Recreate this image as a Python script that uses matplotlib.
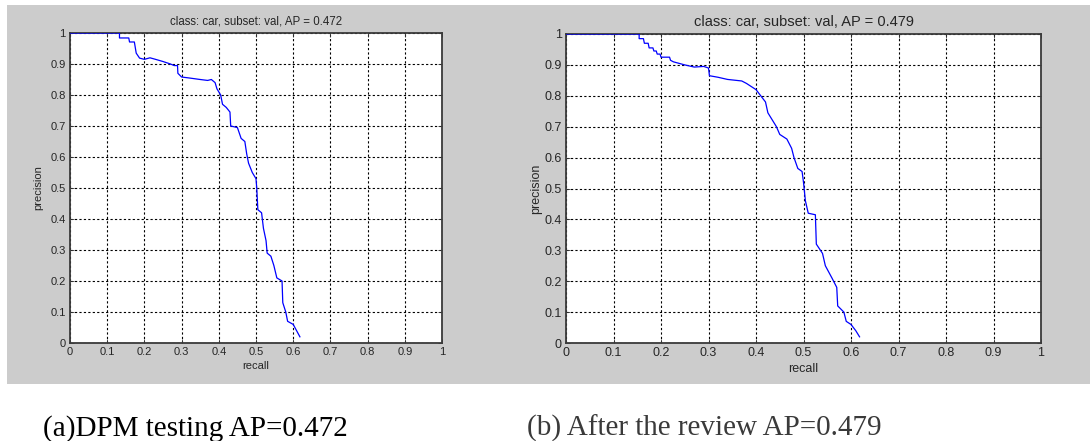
import matplotlib
matplotlib.use("Agg")
import matplotlib.pyplot as plt
from matplotlib.patches import Rectangle

# PR curve (a) DPM testing
rec_a = [0, 0.133, 0.133, 0.158, 0.16, 0.173, 0.178, 0.187, 0.2, 0.215, 0.23, 0.25,
         0.27, 0.28, 0.289, 0.29, 0.30, 0.32, 0.35, 0.37, 0.38, 0.39, 0.395, 0.405,
         0.41, 0.42, 0.43, 0.432, 0.45, 0.46, 0.47, 0.475, 0.48, 0.49, 0.50, 0.502,
         0.505, 0.515, 0.52, 0.527, 0.53, 0.54, 0.548, 0.556, 0.57, 0.572, 0.58,
         0.585, 0.6, 0.618]
prec_a = [1, 1, 0.984, 0.984, 0.971, 0.971, 0.935, 0.919, 0.915, 0.92, 0.915, 0.908,
          0.9, 0.895, 0.895, 0.87, 0.858, 0.855, 0.85, 0.847, 0.85, 0.84, 0.82, 0.80,
          0.77, 0.76, 0.745, 0.70, 0.695, 0.66, 0.65, 0.61, 0.58, 0.55, 0.53, 0.5,
          0.43, 0.42, 0.37, 0.33, 0.29, 0.28, 0.25, 0.21, 0.2, 0.13, 0.1,
          0.07, 0.06, 0.02]

# PR curve (b) after the review
rec_b = [0, 0.154, 0.154, 0.163, 0.165, 0.173, 0.175, 0.183, 0.185, 0.19, 0.192, 0.198,
         0.2, 0.218, 0.22, 0.226, 0.25, 0.27, 0.29, 0.3, 0.302, 0.32, 0.34, 0.37, 0.38,
         0.39, 0.4, 0.41, 0.42, 0.425, 0.435, 0.443, 0.45, 0.465, 0.475, 0.48, 0.488,
         0.497, 0.5, 0.504, 0.51, 0.525, 0.527, 0.54, 0.546, 0.56, 0.57, 0.572, 0.585,
         0.59, 0.6, 0.61, 0.618]
prec_b = [1, 1, 0.985, 0.985, 0.97, 0.97, 0.955, 0.955, 0.945, 0.945, 0.935, 0.935,
          0.925, 0.925, 0.915, 0.91, 0.9, 0.893, 0.895, 0.89, 0.865, 0.86, 0.853, 0.848, 0.84,
          0.83, 0.82, 0.8, 0.78, 0.745, 0.72, 0.7, 0.675, 0.66, 0.63, 0.60, 0.565,
          0.555, 0.52, 0.46, 0.42, 0.415, 0.32, 0.29, 0.25, 0.21, 0.18, 0.12, 0.1,
          0.07, 0.06, 0.04, 0.02]

titles = ["class: car, subset: val, AP = 0.472", "class: car, subset: val, AP = 0.479"]
captions = ["(a)DPM testing AP=0.472", "(b) After the review AP=0.479"]
ticks = [0, 0.1, 0.2, 0.3, 0.4, 0.5, 0.6, 0.7, 0.8, 0.9, 1]
tick_labels = ["0", "0.1", "0.2", "0.3", "0.4", "0.5", "0.6", "0.7", "0.8", "0.9", "1"]

W, H = 1090, 441
fig = plt.figure(figsize=(W / 100, H / 100), dpi=100)
fig.patch.set_facecolor("white")

# grey matlab figure background
fig.add_artist(Rectangle((7 / W, (H - 384) / H), 1083 / W, 379 / H,
                         transform=fig.transFigure, facecolor="#cccccc",
                         edgecolor="none", zorder=0))

txt = "#262626"
fam = ["Liberation Sans", "DejaVu Sans"]
# left screenshot is squeezed horizontally, so its text is a bit smaller
panels = [
    dict(rect=[70 / W, 98 / H, 372 / W, 310 / H], rec=rec_a, prec=prec_a,
         fs=8, tfs=8.3, ylpad=5),
    dict(rect=[566 / W, 98 / H, 475 / W, 309 / H], rec=rec_b, prec=prec_b,
         fs=9, tfs=10.5, ylpad=2),
]

for i, p in enumerate(panels):
    ax = fig.add_axes(p["rect"])
    ax.set_facecolor("white")
    ax.plot(p["rec"], p["prec"], color="#0000ff", lw=0.9, zorder=3)
    ax.set_xlim(0, 1)
    ax.set_ylim(0, 1)
    ax.set_xticks(ticks)
    ax.set_yticks(ticks)
    ax.set_xticklabels(tick_labels, family=fam, fontsize=p["fs"], color=txt)
    ax.set_yticklabels(tick_labels, family=fam, fontsize=p["fs"], color=txt)
    ax.tick_params(direction="in", length=3, width=0.6, color="#333333", pad=3,
                   top=True, right=True)
    ax.grid(True, color="black", linestyle=(0, (2, 2)), lw=0.8)
    for s in ax.spines.values():
        s.set_color("#3a3a3a")
        s.set_linewidth(1.3)
    ax.set_title(titles[i], family=fam, fontsize=p["tfs"], color=txt, pad=6)
    ax.set_xlabel("recall", family=fam, fontsize=p["fs"], color=txt, labelpad=3)
    ax.set_ylabel("precision", family=fam, fontsize=p["fs"], color=txt,
                  labelpad=p["ylpad"])

fig.text(43 / W, (H - 436) / H, captions[0], family=["Liberation Serif"],
         fontsize=21, color="black", ha="left", va="baseline")
fig.text(527 / W, (H - 436) / H, captions[1], family=["Liberation Serif"],
         fontsize=21, color="#3a3a3a", ha="left", va="baseline")

fig.savefig("out.png", dpi=100, facecolor="white")
